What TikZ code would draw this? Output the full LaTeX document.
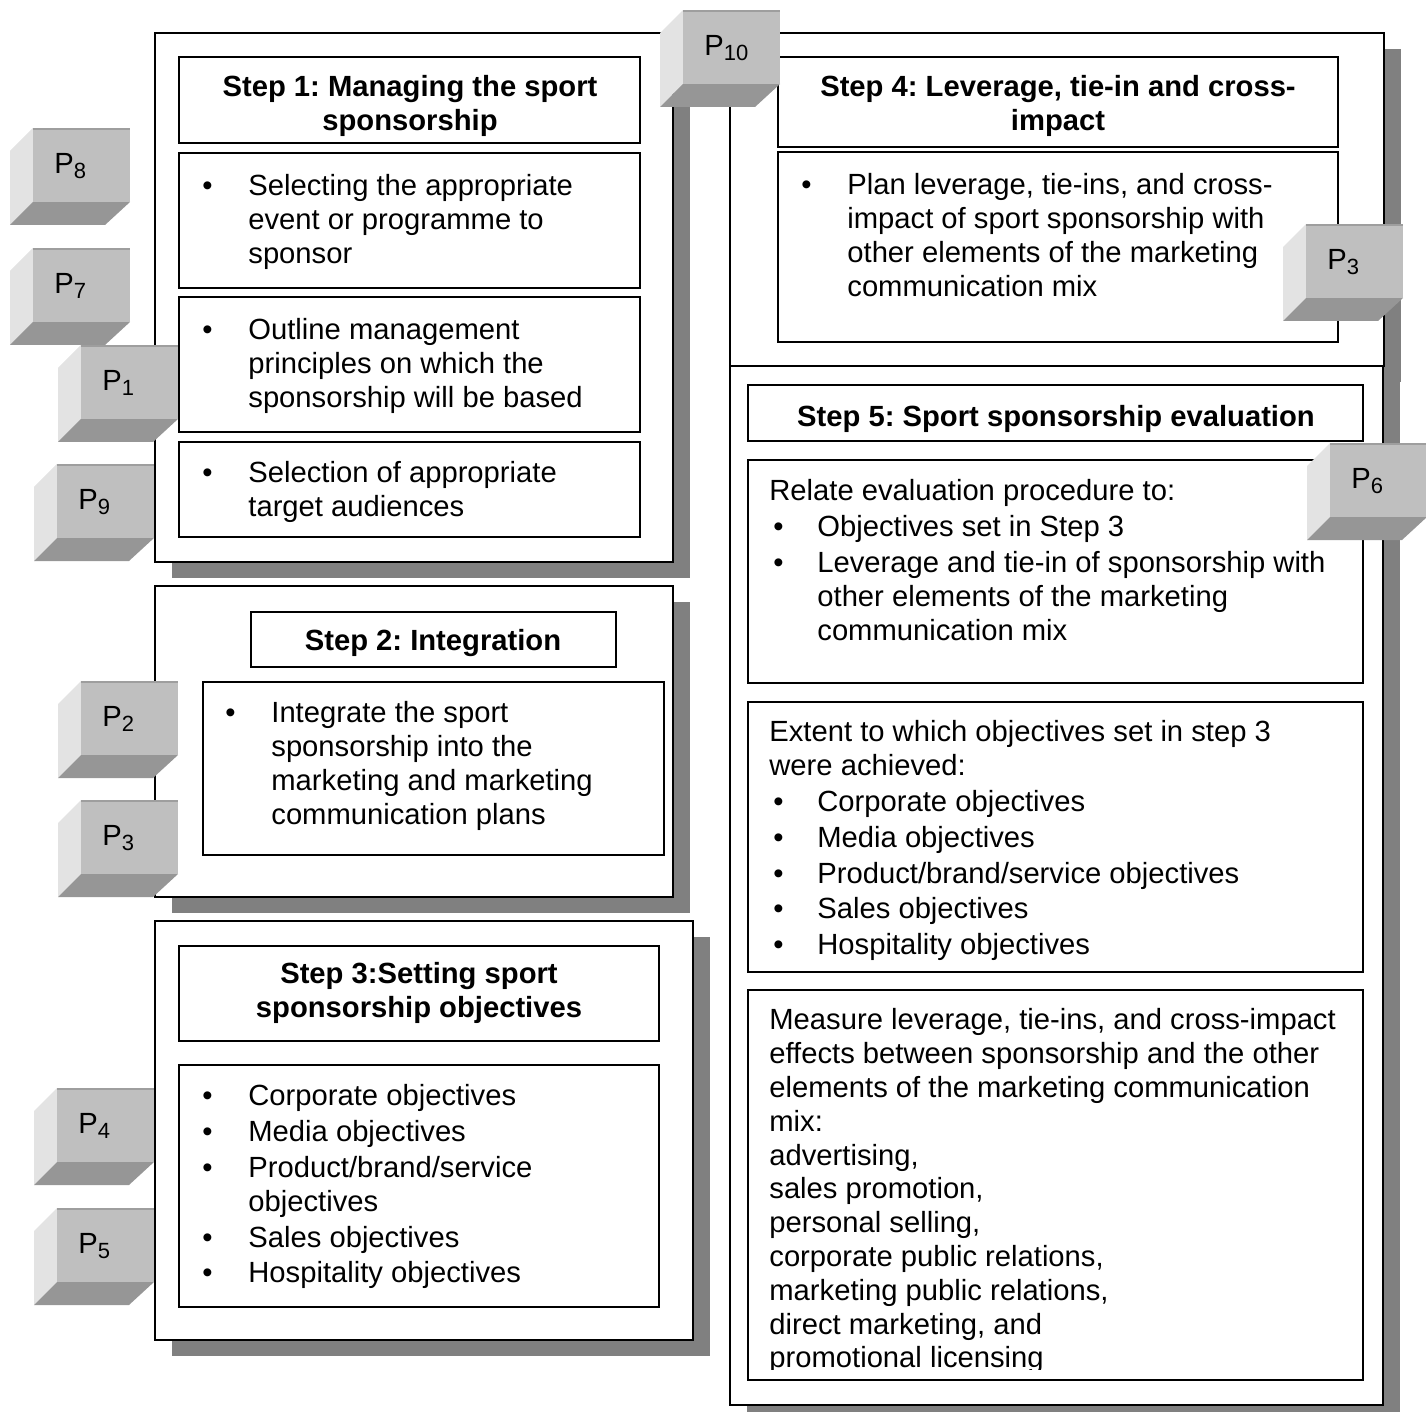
\documentclass[tikz,border=0pt]{standalone}
\usepackage{fontspec}
\setmainfont{Liberation Sans}
\usetikzlibrary{positioning}
\frenchspacing

\newcommand{\bodyfont}{\fontsize{14.6pt}{16.9pt}\selectfont}
\newcommand{\itm}[1][23pt]{\makebox[#1][l]{\textbullet}}
\newcommand{\gap}{\hspace*{23pt}}
\newcommand{\psub}[1]{\raisebox{-0.3ex}{\fontsize{11pt}{11pt}\selectfont #1}}

\tikzset{
  shade/.style={fill=black!50, draw=none},
  panel/.style={draw=black, line width=1pt, fill=white},
  cell/.style={draw=black, line width=1pt, fill=white},
  head/.style={anchor=north, yshift=11.83pt, align=center, inner sep=0pt,
    execute at begin node=\strut, font=\bodyfont\bfseries},
  body/.style={anchor=north west, yshift=11.83pt, align=left, inner sep=0pt,
    execute at begin node=\strut, font=\bodyfont},
  face/.style={fill=black!25},
  lightside/.style={fill=black!11},
  darkside/.style={fill=black!41},
  plabel/.style={anchor=west, inner sep=0pt, font=\bodyfont},
}

\begin{document}
\begin{tikzpicture}[x=0.5pt,y=-0.5pt]
  \useasboundingbox (0,0) rectangle (1426,1412);

  % drop shadows, then the five step panels
  \foreach \a/\b/\c/\d in {155/33/673/562, 155/586/673/897, 155/921/693/1340,
                           730/33/1384/366, 730/366/1383/1405}
    \fill[shade] (\a+17,\b+16) rectangle (\c+17,\d+16);
  \foreach \a/\b/\c/\d in {155/33/673/562, 155/586/673/897, 155/921/693/1340,
                           730/33/1384/366, 730/366/1383/1405}
    \draw[panel] (\a,\b) rectangle (\c,\d);

  % inner boxes
  \foreach \a/\b/\c/\d in {179/57/640/143, 179/153/640/288, 179/297/640/432,
                           179/442/640/537, 251/612/616/667, 203/682/664/855,
                           179/946/659/1041, 179/1065/659/1307,
                           778/57/1338/147, 778/152/1338/342,
                           748/385/1363/441, 748/460/1363/683,
                           748/702/1363/972, 748/990/1363/1380}
    \draw[cell] (\a,\b) rectangle (\c,\d);

  % step 1
  \node[head] (h1) at (410,99) {Step 1: Managing the sport\\sponsorship};
  \node[body] (s1a) at (202,198) {\itm Selecting the appropriate\\\gap event or programme to\\\gap sponsor};
  \node[body] (s1b) at (202,342) {\itm Outline management\\\gap principles on which the\\\gap sponsorship will be based};
  \node[body] (s1c) at (202,485) {\itm Selection of appropriate\\\gap target audiences};

  % step 2
  \node[head] (h2) at (433,650) {Step 2: Integration};
  \node[body] (s2a) at (225,725) {\itm Integrate the sport\\\gap sponsorship into the\\\gap marketing and marketing\\\gap communication plans};

  % step 3
  \node[head] (h3) at (419,986) {Step 3:Setting sport\\sponsorship objectives};
  \node[body] (s3a) at (202,1108) {\itm Corporate objectives\\[1pt]
    \itm Media objectives\\[1pt]
    \itm Product/brand/service\\\gap objectives\\[1pt]
    \itm Sales objectives\\[1pt]
    \itm Hospitality objectives};

  % step 4
  \node[head] (h4) at (1058,99) {Step 4: Leverage, tie-in and cross-\\impact};
  \node[body] (s4a) at (801,197) {\itm Plan leverage, tie-ins, and cross-\\\gap impact of sport sponsorship with\\\gap other elements of the marketing\\\gap communication mix};

  % step 5
  \node[head] (h5) at (1056,426) {Step 5: Sport sponsorship evaluation};
  \node[body] (s5a) at (769,503) {Relate evaluation procedure to:\\[1pt]
    \hspace*{2pt}\itm[22pt]Objectives set in Step 3\\[1pt]
    \hspace*{2pt}\itm[22pt]Leverage and tie-in of sponsorship with\\
    \hspace*{24pt}other elements of the marketing\\
    \hspace*{24pt}communication mix};
  \node[body] (s5b) at (769,744) {Extent to which objectives set in step 3\\
    were achieved:\\[1pt]
    \hspace*{2pt}\itm[22pt]Corporate objectives\\[1pt]
    \hspace*{2pt}\itm[22pt]Media objectives\\[1pt]
    \hspace*{2pt}\itm[22pt]Product/brand/service objectives\\[1pt]
    \hspace*{2pt}\itm[22pt]Sales objectives\\[1pt]
    \hspace*{2pt}\itm[22pt]Hospitality objectives};
  \begin{scope}
    \clip (748,990) rectangle (1363,1369);
    \node[body] (s5c) at (769,1032) {Measure leverage, tie-ins, and cross-impact\\
      effects between sponsorship and the other\\
      elements of the marketing communication\\
      mix:\\
      advertising,\\
      sales promotion,\\
      personal selling,\\
      corporate public relations,\\
      marketing public relations,\\
      direct marketing, and\\
      promotional licensing};
  \end{scope}

  % bevelled P markers
  \foreach \px/\py/\k [count=\c] in {683/10/10, 33/128/8, 33/248/7, 81/345/1,
                                     57/464/9, 81/681/2, 81/800/3, 57/1088/4,
                                     57/1208/5, 1306/224/3, 1330/443/6} {
    \fill[lightside] (\px,\py) -- ++(-23,23) -- ++(0,74) -- ++(23,-23) -- cycle;
    \fill[darkside] (\px,\py+74) -- (\px+97,\py+74) -- (\px+72,\py+97) -- (\px-23,\py+97) -- cycle;
    \fill[face] (\px,\py) rectangle (\px+97,\py+74);
    \draw[black!38, line width=1pt] (\px,\py+1) -- (\px+97,\py+1);
    \node[plabel] (p\c) at (\px+21,\py+38) {P\psub{\k}};
  }
\end{tikzpicture}
\end{document}
